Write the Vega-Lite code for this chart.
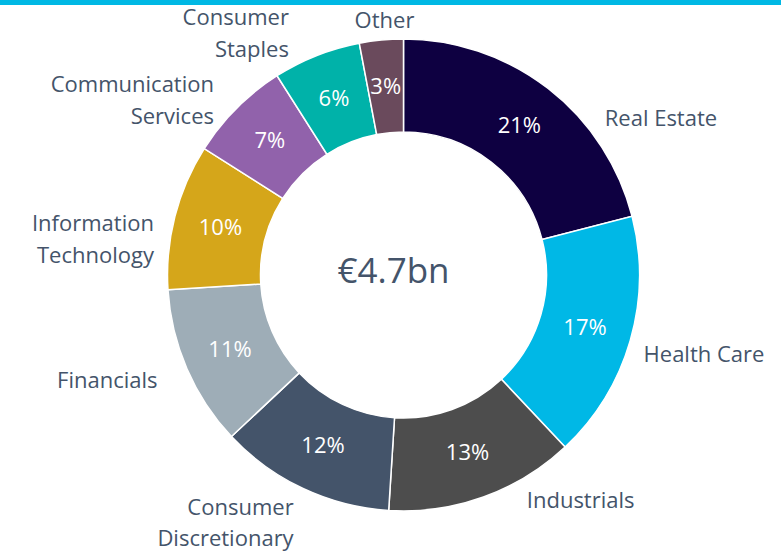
{
  "$schema": "https://vega.github.io/schema/vega-lite/v6.json",
  "width": 755,
  "height": 550,
  "autosize": {"type": "none"},
  "padding": {"left": 26, "top": 0, "right": 0, "bottom": 4},
  "background": "white",
  "config": {"view": {"stroke": null}, "font": "Open Sans", "text": {"fontSize": 22, "color": "#44546A"}},
  "data": {
    "values": [
      {"i": 1, "category": "Real Estate", "name": "Real Estate", "value": 21},
      {"i": 2, "category": "Health Care", "name": "Health Care", "value": 17},
      {"i": 3, "category": "Industrials", "name": "Industrials", "value": 13},
      {"i": 4, "category": "Consumer Discretionary", "name": "Consumer\nDiscretionary", "value": 12},
      {"i": 5, "category": "Financials", "name": "Financials", "value": 11},
      {"i": 6, "category": "Information Technology", "name": "Information\nTechnology", "value": 10},
      {"i": 7, "category": "Communication Services", "name": "Communication\nServices", "value": 7},
      {"i": 8, "category": "Consumer Staples", "name": "Consumer\nStaples", "value": 6},
      {"i": 9, "category": "Other", "name": "Other", "value": 3}
    ]
  },
  "transform": [
    {"stack": "value", "groupby": [], "sort": [{"field": "i", "order": "ascending"}], "as": ["v0", "v1"]},
    {"calculate": "(datum.v0 + datum.v1) / 2", "as": "mid"},
    {"calculate": "datum.value + '%'", "as": "pct"}
  ],
  "layer": [
    {
      "mark": {"type": "arc", "outerRadius": 236, "innerRadius": 143, "stroke": "white", "strokeWidth": 1.5},
      "encoding": {
        "theta": {"field": "v0", "type": "quantitative", "scale": {"domain": [0, 100]}},
        "theta2": {"field": "v1"},
        "color": {
          "field": "category",
          "type": "nominal",
          "scale": {
            "domain": ["Real Estate", "Health Care", "Industrials", "Consumer Discretionary", "Financials", "Information Technology", "Communication Services", "Consumer Staples", "Other"],
            "range": ["#0E0041", "#00B8E6", "#4D4D4D", "#44546A", "#9EADB7", "#D5A61A", "#9162AB", "#00B2A9", "#6A4A5C"]
          },
          "legend": null
        }
      }
    },
    {
      "mark": {"type": "text", "radius": 189, "fontSize": 22, "color": "white"},
      "encoding": {
        "theta": {"field": "mid", "type": "quantitative", "scale": {"domain": [0, 100]}},
        "text": {"field": "pct"}
      }
    },
    {
      "transform": [{"filter": "datum.i == 1"}],
      "mark": {"type": "text", "radius": 250, "align": "left", "baseline": "middle", "dx": 48, "dy": 42},
      "encoding": {
        "theta": {"field": "mid", "type": "quantitative", "scale": {"domain": [0, 100]}},
        "text": {"field": "name"}
      }
    },
    {
      "transform": [{"filter": "datum.i == 2"}],
      "mark": {"type": "text", "radius": 250, "align": "left", "baseline": "top"},
      "encoding": {
        "theta": {"field": "mid", "type": "quantitative", "scale": {"domain": [0, 100]}},
        "text": {"field": "name"}
      }
    },
    {
      "transform": [{"filter": "datum.i == 3"}],
      "mark": {"type": "text", "radius": 240, "align": "left", "baseline": "middle", "dx": 42},
      "encoding": {
        "theta": {"field": "mid", "type": "quantitative", "scale": {"domain": [0, 100]}},
        "text": {"field": "name"}
      }
    },
    {
      "transform": [{"filter": "datum.i == 4"}],
      "mark": {"type": "text", "radius": 258, "align": "right", "baseline": "middle", "lineBreak": "\n", "lineHeight": 31},
      "encoding": {
        "theta": {"field": "mid", "type": "quantitative", "scale": {"domain": [0, 100]}},
        "text": {"field": "name"}
      }
    },
    {
      "transform": [{"filter": "datum.i == 5 || datum.i == 7"}],
      "mark": {"type": "text", "radius": 268, "align": "right", "baseline": "middle", "lineBreak": "\n", "lineHeight": 32},
      "encoding": {
        "theta": {"field": "mid", "type": "quantitative", "scale": {"domain": [0, 100]}},
        "text": {"field": "name"}
      }
    },
    {
      "transform": [{"filter": "datum.i == 6"}],
      "mark": {"type": "text", "radius": 268, "align": "right", "baseline": "middle", "lineBreak": "\n", "lineHeight": 32, "dx": 10, "dy": 16},
      "encoding": {
        "theta": {"field": "mid", "type": "quantitative", "scale": {"domain": [0, 100]}},
        "text": {"field": "name"}
      }
    },
    {
      "transform": [{"filter": "datum.i == 8"}],
      "mark": {"type": "text", "radius": 276, "align": "right", "baseline": "middle", "lineBreak": "\n", "lineHeight": 32, "dx": -13},
      "encoding": {
        "theta": {"field": "mid", "type": "quantitative", "scale": {"domain": [0, 100]}},
        "text": {"field": "name"}
      }
    },
    {
      "transform": [{"filter": "datum.i == 9"}],
      "mark": {"type": "text", "radius": 255, "align": "center", "baseline": "middle", "dx": 5},
      "encoding": {
        "theta": {"field": "mid", "type": "quantitative", "scale": {"domain": [0, 100]}},
        "text": {"field": "name"}
      }
    },
    {
      "data": {"values": [{"t": "€4.7bn"}]},
      "transform": [],
      "mark": {"type": "text", "fontSize": 35, "color": "#44546A", "dx": -10, "dy": -3},
      "encoding": {"text": {"field": "t"}}
    },
    {
      "data": {"values": [{"t": "line"}]},
      "transform": [],
      "mark": {"type": "rule", "color": "#00B8E4", "strokeWidth": 5, "clip": false},
      "encoding": {"x": {"value": -26}, "x2": {"value": 755}, "y": {"value": 2.5}}
    }
  ]
}
